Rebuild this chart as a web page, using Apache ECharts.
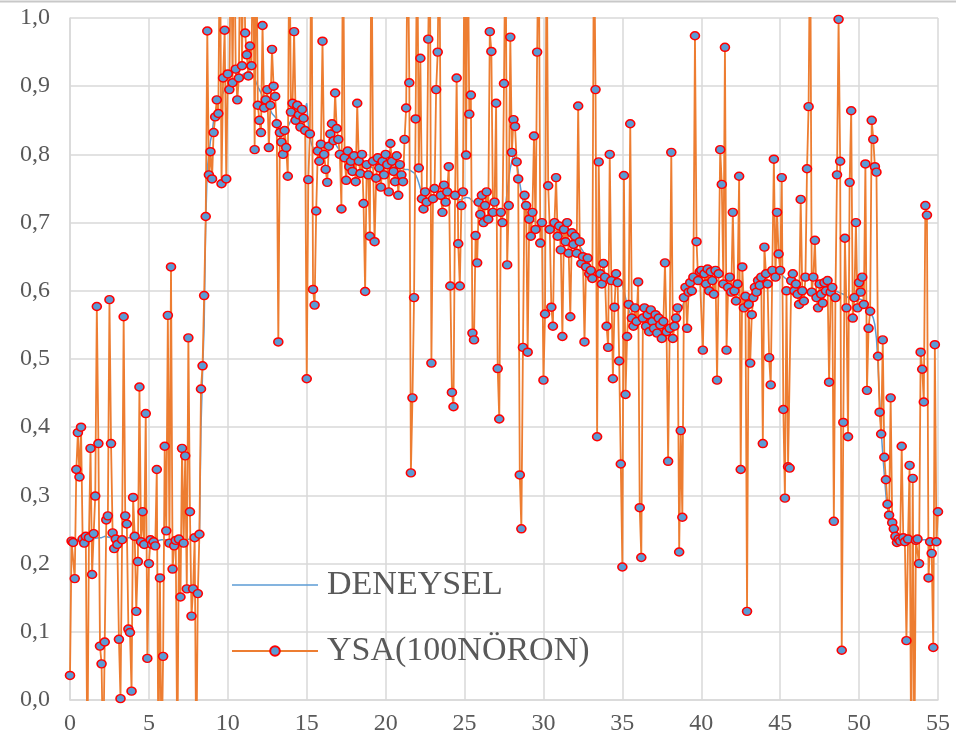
<!DOCTYPE html>
<html><head><meta charset="utf-8">
<script src="https://cdn.jsdelivr.net/npm/echarts@6/dist/echarts.min.js"></script>
<style>html,body{margin:0;padding:0;background:#fff}#c{width:956px;height:751px}</style>
</head><body><div id="c"></div>
<script>
// sampling grid: one sample every 0.1 units from 0 to 55
const xStart = 0;
const xStep = 0.1;

const deneysel = [
0.235,0.235,0.234,0.234,0.235,0.236,0.236,0.235,0.235,0.236,
0.236,0.237,0.237,0.236,0.236,0.236,0.237,0.238,0.238,0.238,
0.238,0.239,0.240,0.240,0.239,0.239,0.238,0.238,0.237,0.237,
0.237,0.236,0.236,0.236,0.237,0.237,0.238,0.238,0.238,0.238,
0.238,0.237,0.237,0.236,0.236,0.236,0.235,0.235,0.235,0.235,
0.235,0.234,0.234,0.234,0.234,0.234,0.234,0.235,0.235,0.235,
0.235,0.235,0.235,0.235,0.235,0.234,0.234,0.234,0.234,0.234,
0.234,0.234,0.234,0.235,0.235,0.235,0.236,0.236,0.236,0.237,
0.237,0.238,0.240,0.400,0.480,0.550,0.700,0.780,0.800,0.820,
0.830,0.850,0.860,0.870,0.870,0.880,0.880,0.890,0.890,0.900,
0.900,0.900,0.905,0.908,0.910,0.910,0.912,0.912,0.915,0.915,
0.918,0.920,0.920,0.922,0.922,0.920,0.915,0.912,0.905,0.900,
0.895,0.890,0.885,0.880,0.875,0.870,0.868,0.865,0.860,0.858,
0.855,0.850,0.845,0.840,0.835,0.832,0.832,0.835,0.840,0.845,
0.850,0.855,0.858,0.860,0.860,0.860,0.860,0.858,0.858,0.860,
0.875,0.845,0.825,0.815,0.810,0.808,0.808,0.810,0.810,0.812,
0.812,0.812,0.814,0.816,0.818,0.820,0.820,0.818,0.816,0.812,
0.810,0.806,0.802,0.800,0.798,0.796,0.795,0.794,0.793,0.792,
0.792,0.791,0.790,0.789,0.788,0.787,0.786,0.785,0.784,0.783,
0.782,0.781,0.780,0.780,0.780,0.780,0.781,0.782,0.783,0.784,
0.785,0.786,0.786,0.785,0.784,0.783,0.782,0.781,0.780,0.780,
0.780,0.779,0.778,0.778,0.778,0.777,0.776,0.775,0.773,0.770,
0.765,0.758,0.750,0.742,0.736,0.732,0.730,0.730,0.732,0.734,
0.736,0.738,0.740,0.741,0.742,0.742,0.742,0.741,0.740,0.740,
0.739,0.738,0.737,0.736,0.735,0.734,0.733,0.733,0.734,0.735,
0.736,0.737,0.737,0.736,0.734,0.732,0.730,0.728,0.726,0.724,
0.722,0.721,0.720,0.720,0.720,0.720,0.720,0.719,0.718,0.717,
0.716,0.714,0.712,0.710,0.710,0.715,0.725,0.745,0.765,0.780,
0.790,0.800,0.800,0.790,0.775,0.758,0.744,0.732,0.722,0.715,
0.710,0.707,0.705,0.703,0.702,0.701,0.700,0.699,0.698,0.697,
0.696,0.695,0.694,0.693,0.692,0.691,0.690,0.689,0.688,0.687,
0.686,0.685,0.684,0.683,0.682,0.681,0.680,0.679,0.678,0.676,
0.674,0.672,0.669,0.666,0.662,0.658,0.654,0.650,0.645,0.640,
0.636,0.633,0.630,0.628,0.626,0.625,0.624,0.623,0.622,0.621,
0.620,0.620,0.620,0.620,0.620,0.620,0.619,0.618,0.617,0.615,
0.610,0.600,0.590,0.580,0.572,0.567,0.564,0.562,0.561,0.560,
0.560,0.560,0.561,0.562,0.564,0.566,0.566,0.565,0.563,0.561,
0.559,0.557,0.555,0.553,0.551,0.550,0.549,0.549,0.549,0.550,
0.551,0.553,0.555,0.557,0.560,0.563,0.567,0.572,0.577,0.583,
0.589,0.595,0.600,0.604,0.608,0.611,0.614,0.616,0.618,0.619,
0.620,0.621,0.621,0.621,0.620,0.620,0.619,0.618,0.617,0.616,
0.615,0.614,0.613,0.612,0.611,0.610,0.609,0.607,0.605,0.603,
0.601,0.599,0.597,0.595,0.593,0.591,0.590,0.590,0.590,0.591,
0.592,0.594,0.596,0.599,0.602,0.606,0.610,0.614,0.618,0.621,
0.624,0.626,0.628,0.629,0.630,0.630,0.630,0.629,0.628,0.627,
0.625,0.623,0.621,0.619,0.617,0.615,0.613,0.611,0.609,0.607,
0.605,0.604,0.603,0.602,0.601,0.600,0.600,0.600,0.600,0.600,
0.600,0.600,0.599,0.598,0.597,0.597,0.598,0.600,0.605,0.612,
0.620,0.615,0.608,0.603,0.600,0.600,0.599,0.598,0.597,0.596,
0.595,0.594,0.592,0.590,0.588,0.587,0.586,0.586,0.587,0.588,
0.588,0.588,0.587,0.585,0.582,0.579,0.575,0.570,0.565,0.560,
0.550,0.530,0.490,0.440,0.395,0.360,0.330,0.300,0.280,0.268,
0.258,0.250,0.245,0.241,0.238,0.236,0.235,0.235,0.235,0.235,
0.235,0.235,0.235,0.235,0.235,0.235,0.235,0.235,0.235,0.235,
0.235,0.235,0.235,0.235,0.235,0.235,0.235,0.235,0.235,0.235,
0.235
];

const ysa = [
0.036,0.233,0.231,0.178,0.338,0.392,0.327,0.400,0.236,0.230,
0.240,-0.1,0.238,0.369,0.184,0.244,0.299,0.577,0.376,0.079,
0.053,-0.1,0.085,0.264,0.270,0.587,0.376,0.245,0.222,0.236,
0.228,0.089,0.002,0.235,0.562,0.270,0.258,0.104,0.099,0.013,
0.297,0.240,0.130,0.203,0.459,0.232,0.276,0.228,0.420,0.061,
0.200,0.235,0.228,0.232,0.226,0.338,-0.1,0.179,-0.1,0.064,
0.372,0.248,0.564,0.230,0.635,0.192,0.226,0.234,-0.1,0.236,
0.151,0.369,0.230,0.358,0.163,0.531,0.276,0.123,0.163,0.238,
-0.1,0.156,0.243,0.456,0.490,0.593,0.709,0.981,0.770,0.804,
0.764,0.832,0.855,0.880,0.860,1.15,0.757,0.912,0.982,0.764,
0.918,0.895,1.15,0.905,1.15,0.925,0.880,0.912,1.15,0.930,
1.15,0.978,0.946,0.915,0.959,0.930,1.15,0.807,1.15,0.872,
0.850,0.832,0.989,0.868,0.880,0.895,0.810,0.872,0.954,0.900,
0.885,0.845,0.525,0.832,0.818,0.800,0.835,0.810,0.768,1.15,
0.862,0.875,0.980,0.850,0.872,0.858,0.840,0.866,0.853,0.835,
0.471,0.763,0.830,1.15,0.602,0.579,0.717,0.805,0.790,0.815,
0.966,0.800,0.778,0.759,0.812,0.830,0.845,0.820,0.890,0.838,
0.822,0.800,0.720,1.15,0.795,0.762,0.805,0.782,0.790,0.775,
0.798,0.760,0.875,0.790,0.772,0.800,0.728,0.599,0.785,0.770,
0.680,1.15,0.790,0.672,0.765,0.795,0.780,0.752,0.790,0.770,
0.800,0.785,0.745,0.816,0.790,0.775,0.760,0.798,0.740,0.785,
0.770,0.760,0.822,0.868,1.15,0.905,0.333,0.443,0.590,0.852,
1.15,0.780,0.941,0.735,0.720,0.745,0.730,0.969,1.15,0.494,
0.735,0.750,0.895,0.950,1.15,0.740,0.715,0.755,0.730,0.745,
0.782,0.607,0.451,0.430,0.740,0.912,0.669,0.607,0.725,0.745,
1.15,0.799,1.15,0.859,0.887,0.538,0.528,0.681,0.641,0.730,
0.712,0.740,0.700,0.725,0.745,0.705,0.980,0.951,0.715,0.730,
0.875,0.486,0.412,0.715,0.700,0.904,1.15,0.638,0.725,0.972,
0.803,0.851,0.841,0.789,0.764,0.330,0.251,0.517,0.740,0.725,
0.510,0.705,0.680,0.715,0.827,0.690,0.950,1.15,0.670,0.700,
0.469,0.566,1.15,0.754,0.690,0.576,0.548,0.700,0.766,0.680,
0.695,0.660,0.533,0.690,0.672,0.700,0.655,0.562,0.685,0.668,
0.680,0.655,0.871,0.672,0.640,0.650,0.525,0.635,0.648,0.625,
0.630,0.618,1.15,0.895,0.386,0.789,0.625,0.610,0.640,0.620,
0.548,0.517,0.800,0.615,0.471,0.576,0.625,0.612,0.497,0.346,
0.195,0.769,0.448,0.533,0.580,0.845,0.560,0.548,0.575,0.555,
0.613,0.282,0.209,0.560,0.575,0.548,0.565,0.540,0.572,0.555,
0.545,0.565,0.538,0.560,0.550,0.530,0.555,0.641,0.540,0.350,
0.545,0.803,0.530,0.548,0.560,0.575,0.217,0.395,0.268,0.590,
0.605,0.545,0.598,0.612,0.600,0.620,0.974,0.672,0.615,0.628,
0.630,0.513,0.625,0.610,0.632,0.600,0.628,0.615,0.595,0.630,
0.469,0.625,0.807,0.756,0.610,0.957,0.513,0.605,0.620,0.598,
0.715,0.600,0.585,0.610,0.768,0.338,0.635,0.575,0.592,0.130,
0.580,0.494,0.565,0.590,0.605,0.598,0.615,0.608,0.620,0.376,
0.664,0.625,0.610,0.502,0.462,0.630,0.793,0.620,0.715,0.654,
0.630,0.766,0.426,0.296,0.600,0.342,0.340,0.615,0.625,0.600,
0.610,0.595,0.580,0.734,0.600,0.585,0.620,0.779,0.870,1.15,
0.598,0.620,0.674,0.590,0.575,0.610,0.595,0.582,0.612,0.600,
0.615,0.466,0.598,0.605,0.262,0.590,0.770,0.998,0.790,0.073,
0.407,0.677,0.575,0.386,0.759,0.864,0.560,0.590,0.700,0.575,
0.612,0.598,0.620,0.580,0.786,0.454,0.545,0.570,0.850,0.822,
0.782,0.774,0.504,0.422,0.390,0.528,0.356,0.323,0.287,0.271,
0.443,0.260,0.251,0.240,0.231,0.236,0.233,0.372,0.238,0.232,
0.087,0.236,0.344,-0.1,0.325,-0.1,0.234,0.236,0.200,0.510,
0.485,0.437,0.725,0.711,0.179,0.232,0.215,0.077,0.521,0.232,
0.276
];

const seriesNames = ['DENEYSEL', 'YSA(100NÖRON)'];
const xTickLabels = ['0','5','10','15','20','25','30','35','40','45','50','55'];
const yTickLabels = ['0,0','0,1','0,2','0,3','0,4','0,5','0,6','0,7','0,8','0,9','1,0'];

function toPairs(arr){ return arr.map((v,i)=>[+(xStart + i*xStep).toFixed(1), v]); }

const chart = echarts.init(document.getElementById('c'), null, {renderer:'canvas'});
const gridColor = '#d9d9d9';
const labelStyle = {color:'#595959', fontFamily:'Liberation Serif', fontSize:24};
chart.setOption({
  animation:false,
  backgroundColor:'#ffffff',
  graphic:[{type:'line', shape:{x1:0,y1:1.5,x2:956,y2:1.5}, style:{stroke:'#c8c8c8', lineWidth:2}}],
  grid:{left:70, right:18, top:18, bottom:51},
  xAxis:{type:'value', min:0, max:55, interval:5,
    axisLine:{show:true, lineStyle:{color:gridColor, width:1.5}},
    axisTick:{show:false},
    splitLine:{show:true, lineStyle:{color:gridColor, width:1.5}},
    axisLabel:Object.assign({margin:12, formatter:(v)=>xTickLabels[Math.round(v/5)]}, labelStyle)},
  yAxis:{type:'value', min:0, max:1, interval:0.1,
    axisLine:{show:true, lineStyle:{color:gridColor, width:1.5}},
    axisTick:{show:false},
    splitLine:{show:true, lineStyle:{color:gridColor, width:1.5}},
    axisLabel:Object.assign({margin:20, formatter:(v)=>yTickLabels[Math.round(v*10)]}, labelStyle)},
  legend:{
    data:[
      {name:seriesNames[0], itemStyle:{opacity:0, borderWidth:0}, lineStyle:{color:'#5B9BD5', width:1.5, opacity:1}},
      {name:seriesNames[1]}
    ],
    orient:'vertical', left:226, top:563, itemWidth:86, itemHeight:12, itemGap:32,
    textStyle:{fontFamily:'Liberation Serif', fontSize:34, color:'#595959', lineHeight:34, padding:[0,0,0,4]}},
  series:[
    {name:seriesNames[0], type:'line', data:toPairs(deneysel), symbol:'none', showSymbol:false,
     lineStyle:{color:'#5B9BD5', width:1.5}, itemStyle:{color:'#5B9BD5'}, z:2, clip:true},
    {name:seriesNames[1], type:'line', data:toPairs(ysa), symbol:'circle', symbolSize:[9,8], showSymbol:true, showAllSymbol:true,
     lineStyle:{color:'#ED7D31', width:1.8}, itemStyle:{color:'#5B9BD5', borderColor:'#FF0000', borderWidth:1.5}, z:3, clip:true}
  ]
});
</script></body></html>
